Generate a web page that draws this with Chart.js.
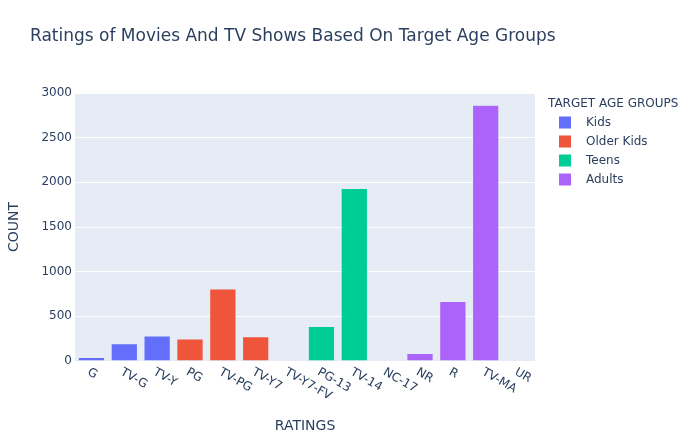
<!DOCTYPE html>
<html>
<head>
<meta charset="utf-8">
<script src="https://cdn.jsdelivr.net/npm/chart.js@4.4.0/dist/chart.umd.min.js"></script>
<style>
  html, body { margin: 0; padding: 0; background: #fff; }
  #wrap { width: 689px; height: 438px; }
</style>
</head>
<body>
<div id="wrap"><canvas id="ratingsChart"></canvas></div>
<script>
const ratings = ['G', 'TV-G', 'TV-Y', 'PG', 'TV-PG', 'TV-Y7', 'TV-Y7-FV', 'PG-13', 'TV-14', 'NC-17', 'NR', 'R', 'TV-MA', 'UR']
const counts = [39, 194, 280, 247, 806, 271, 6, 386, 1931, 3, 84, 665, 2863, 5]
const ratingGroup = ['Kids', 'Kids', 'Kids', 'Older Kids', 'Older Kids', 'Older Kids', 'Older Kids',
    'Teens', 'Teens', 'Teens', 'Adults', 'Adults', 'Adults', 'Adults']
const groups = ['Kids', 'Older Kids', 'Teens', 'Adults']
const groupColors = ['#636efa', '#EF553B', '#00cc96', '#ab63fa']
const yTicks = [0, 500, 1000, 1500, 2000, 2500, 3000]

const textColor = '#2a3f5f'
const fontFamily = '"DejaVu Sans", Verdana, sans-serif'
Chart.defaults.font.family = fontFamily
Chart.defaults.color = textColor

let datasets = groups.map((g, gi) => ({
    label: g,
    data: counts.map((c, i) => ratingGroup[i] === g ? c : null),
    backgroundColor: groupColors[gi],
    borderColor: '#E5ECF6',
    borderWidth: 0.5,
    categoryPercentage: 1,
    barPercentage: 0.8
}))

// plot background, like plotly's template
const plotBg = {
    id: 'plotBg',
    beforeDraw(chart) {
        const a = chart.chartArea
        const ctx = chart.ctx
        ctx.save()
        ctx.fillStyle = '#E5ECF6'
        ctx.fillRect(a.left, a.top, a.right - a.left, a.bottom - a.top)
        ctx.restore()
    }
}

// title, angled x labels and the legend
const extras = {
    id: 'extras',
    afterDraw(chart) {
        const ctx = chart.ctx
        const a = chart.chartArea
        const xs = chart.scales.x
        ctx.save()
        ctx.fillStyle = textColor

        ctx.font = '17px ' + fontFamily
        ctx.textAlign = 'left'
        ctx.textBaseline = 'middle'
        ctx.fillText('Ratings of Movies And TV Shows Based On Target Age Groups', 30, 37)

        ctx.font = '12px ' + fontFamily
        ctx.textBaseline = 'top'
        ratings.forEach((r, i) => {
            const px = xs.getPixelForValue(i)
            ctx.save()
            ctx.translate(px, a.bottom + 5)
            ctx.rotate(30 * Math.PI / 180)
            ctx.fillText(r, 0, 0)
            ctx.restore()
        })

        ctx.textBaseline = 'middle'
        ctx.fillText('TARGET AGE GROUPS', 548, 104)
        groups.forEach((g, gi) => {
            const y = 122.5 + gi * 19
            ctx.fillStyle = groupColors[gi]
            ctx.fillRect(559, y - 6, 12, 12)
            ctx.fillStyle = textColor
            ctx.fillText(g, 586, y)
        })
        ctx.restore()
    }
}

const ctx = document.getElementById('ratingsChart')

const chart = new Chart(ctx, {
    type: 'bar',
    data: { labels: ratings, datasets: datasets },
    options: {
        responsive: true,
        maintainAspectRatio: false,
        animation: false,
        layout: { padding: { top: 93, right: 154, left: 0, bottom: 0 } },
        plugins: {
            legend: { display: false },
            tooltip: { enabled: false }
        },
        scales: {
            x: {
                stacked: true,
                grid: { display: false },
                border: { display: false },
                ticks: { display: false },
                title: {
                    display: true,
                    text: 'RATINGS',
                    font: { size: 14 },
                    color: textColor,
                    padding: { top: 0, bottom: 3 }
                },
                afterFit(scale) { scale.height = 77 }
            },
            y: {
                stacked: true,
                min: 0,
                max: 3000,
                afterBuildTicks(scale) { scale.ticks = yTicks.map(v => ({ value: v })) },
                grid: { color: '#ffffff', lineWidth: 1, drawTicks: false },
                border: { display: false },
                ticks: {
                    font: { size: 12 },
                    color: textColor,
                    padding: 3,
                    callback: v => String(v)
                },
                title: {
                    display: true,
                    text: 'COUNT',
                    font: { size: 14 },
                    color: textColor,
                    padding: { top: 6, bottom: 0 }
                },
                afterFit(scale) { scale.width = 75 }
            }
        }
    },
    plugins: [plotBg, extras]
})
</script>
</body>
</html>
